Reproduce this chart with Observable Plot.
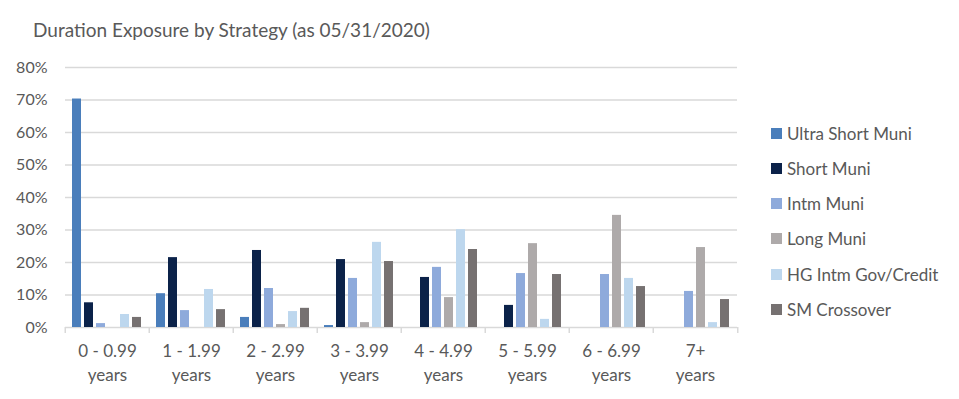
<!DOCTYPE html>
<html><head><meta charset="utf-8">
<script src="https://cdn.jsdelivr.net/npm/d3@7"></script>
<script src="https://cdn.jsdelivr.net/npm/@observablehq/plot@0.6"></script>
<style>
body{margin:0;background:#fff;font-family:Lato,sans-serif;}
#wrap{position:relative;width:959px;height:399px;overflow:hidden;}
#title{position:absolute;left:33px;top:17px;font-size:19px;line-height:26px;color:#595959;white-space:nowrap;}
#legend{position:absolute;left:771px;top:115.7px;}
.row{height:35.2px;display:flex;align-items:center;font-size:17px;color:#595959;white-space:nowrap;}
.sw{width:11px;height:11px;margin-right:5px;flex:none;}
</style></head><body>
<div id="wrap"><div id="chart"></div><div id="title">Duration Exposure by Strategy (as 05/31/2020)</div><div id="legend"></div></div>
<script>
const categories = ["0 - 0.99 years","1 - 1.99 years","2 - 2.99 years","3 - 3.99 years","4 - 4.99 years","5 - 5.99 years","6 - 6.99 years","7+ years"];
const series = ["Ultra Short Muni","Short Muni","Intm Muni","Long Muni","HG Intm Gov/Credit","SM Crossover"];
const colors = ["#4a7ebb","#0b2249","#8eaadb","#aeaaaa","#bdd7ee","#767171"];
const ultraShortMuni = [70.3, 10.4, 3.1, 0.6, 0, 0, 0, 0];
const shortMuni      = [7.6, 21.5, 23.7, 20.9, 15.4, 6.8, 0, 0];
const intmMuni       = [1.2, 5.2, 12.0, 15.1, 18.5, 16.6, 16.3, 11.1];
const longMuni       = [0, 0, 0.9, 1.5, 9.2, 25.8, 34.5, 24.6];
const hgIntmGovCredit= [4.0, 11.7, 4.9, 26.2, 30.1, 2.5, 15.1, 1.5];
const smCrossover    = [3.1, 5.5, 5.9, 20.3, 24.0, 16.3, 12.6, 8.6];
const yTicks = [0, 10, 20, 30, 40, 50, 60, 70, 80];

const seriesValues = [ultraShortMuni, shortMuni, intmMuni, longMuni, hgIntmGovCredit, smCrossover];
const data = [];
series.forEach((s, si) => categories.forEach((c, ci) => data.push({group: c, series: s, value: seriesValues[si][ci]})));

const grey = "#d9d9d9";
const chart = Plot.plot({
  width: 959, height: 399,
  marginLeft: 63, marginRight: 220, marginTop: 67, marginBottom: 72,
  style: {fontFamily: "Lato, sans-serif", fontSize: "16px", color: "#595959", background: "white", overflow: "visible"},
  fx: {domain: categories, padding: 0, label: null},
  x: {domain: series, paddingInner: 0.22, paddingOuter: 0.36, axis: null},
  y: {domain: [0, 80], label: null},
  color: {domain: series, range: colors},
  marks: [
    Plot.gridY(yTicks, {stroke: grey, strokeOpacity: 1, strokeWidth: 1.5}),
    Plot.axisY(yTicks, {tickFormat: d => d + "%", tickSize: 0, tickPadding: 18, fill: "#595959", fontSize: 16, label: null}),
    Plot.barY(data, {fx: "group", x: "series", y: "value", fill: "series"}),
    Plot.axisFx({anchor: "bottom", tickSize: 6, text: null, dx: -42.25, stroke: grey, strokeWidth: 1.5, strokeOpacity: 1, label: null}),
    Plot.axisFx({anchor: "bottom", ticks: [categories[categories.length - 1]], tickSize: 6, text: null, dx: 42.25, stroke: grey, strokeWidth: 1.5, strokeOpacity: 1, label: null}),
    Plot.axisFx({anchor: "bottom", tickSize: 0, tickPadding: 13, lineHeight: 1.4, fill: "#595959", fontSize: 17, label: null,
      tickFormat: d => d.replace(" years", "\nyears")})
  ]
});
document.getElementById("chart").appendChild(chart);

const legend = d3.select("#legend");
series.forEach((s, i) => {
  const row = legend.append("div").attr("class", "row");
  row.append("div").attr("class", "sw").style("background", colors[i]);
  row.append("span").text(s);
});
</script>
</body></html>
